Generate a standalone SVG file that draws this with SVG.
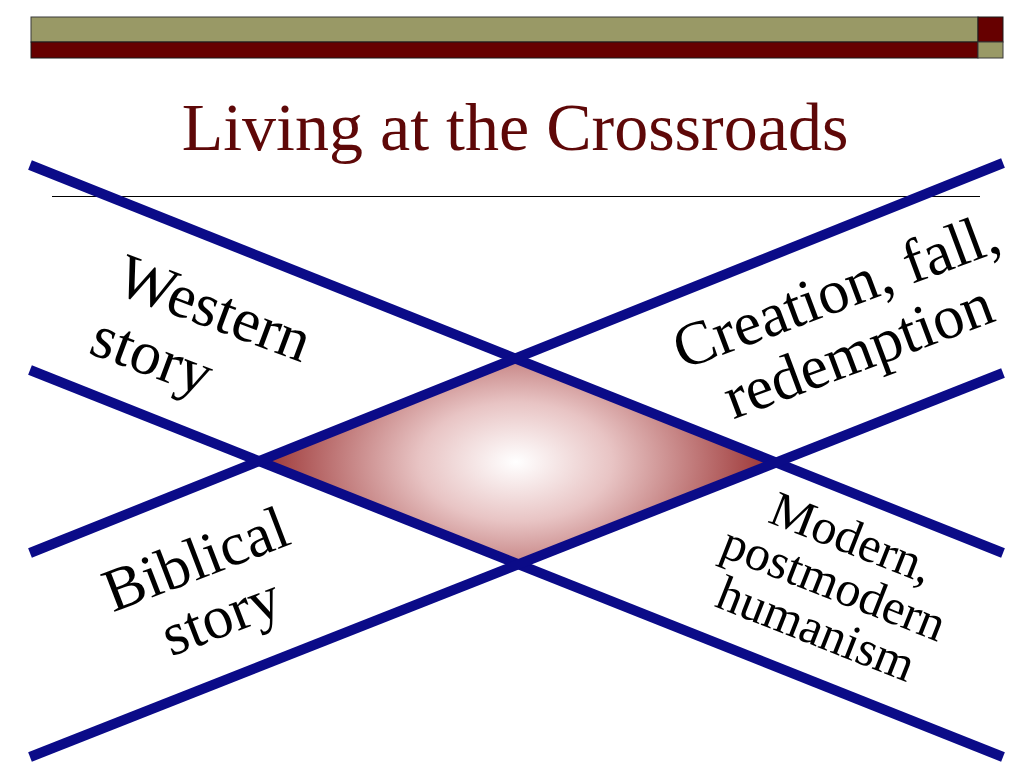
<svg xmlns="http://www.w3.org/2000/svg" width="1024" height="768" viewBox="0 0 1024 768">
<style>
.olive{fill:#999966;stroke:#3a3a3a;stroke-width:1}
.maroon{fill:#660000;stroke:#1a1a1a;stroke-width:1}
.road{stroke:#0b0b88;stroke-width:10;fill:none}
</style>
<defs>
<radialGradient id="glow" gradientUnits="userSpaceOnUse" cx="516" cy="462" r="275" gradientTransform="translate(516 462) scale(1 0.62) translate(-516 -462)">
<stop offset="0" stop-color="#ffffff"/>
<stop offset="0.35" stop-color="#e8c4c4"/>
<stop offset="1" stop-color="#922222"/>
</radialGradient>
</defs>
<rect width="1024" height="768" fill="#ffffff"/>
<g id="header">
<rect class="olive" x="31" y="17" width="947" height="25"/>
<rect class="maroon" x="31" y="42" width="947" height="16"/>
<rect class="maroon" x="978" y="17" width="25" height="25"/>
<rect class="olive" x="978" y="42" width="25" height="16"/>
</g>
<g id="title">
<text x="515" y="150" text-anchor="middle" font-family="Liberation Serif, Times New Roman, serif" font-size="68" fill="#5e0808">Living at the Crossroads</text>
<line x1="52" y1="196.5" x2="980" y2="196.5" stroke="#000" stroke-width="1"/>
</g>
<g id="center">
<polygon points="262,462 516,360 770,462 516,565" fill="url(#glow)"/>
</g>
<g id="connectors">
<line class="road" x1="30" y1="165" x2="1003" y2="553"/>
<line class="road" x1="30" y1="370" x2="1003" y2="757"/>
<line class="road" x1="30" y1="757" x2="1003" y2="373"/>
<line class="road" x1="30" y1="553" x2="1003" y2="163"/>
</g>
<g id="western" transform="translate(113 292) rotate(20.5)" font-family="Liberation Serif, Times New Roman, serif" font-size="62" fill="#000">
<text x="0" y="0">Western</text>
<text x="-3" y="66">story</text>
</g>
<g id="creation" transform="translate(843 310) rotate(-20.5)" font-family="Liberation Serif, Times New Roman, serif" font-size="62" fill="#000" text-anchor="middle">
<text x="0" y="0">Creation, fall,</text>
<text x="0" y="64">redemption</text>
</g>
<g id="biblical" transform="translate(203 578) rotate(-21)" font-family="Liberation Serif, Times New Roman, serif" font-size="61" fill="#000" text-anchor="middle">
<text x="0" y="0">Biblical</text>
<text x="3" y="62">story</text>
</g>
<g id="modern" transform="translate(846 553) rotate(21.5)" font-family="Liberation Serif, Times New Roman, serif" font-size="50" fill="#000" text-anchor="middle">
<text x="0" y="0">Modern,</text>
<text x="0" y="49">postmodern</text>
<text x="0" y="98">humanism</text>
</g>
</svg>
